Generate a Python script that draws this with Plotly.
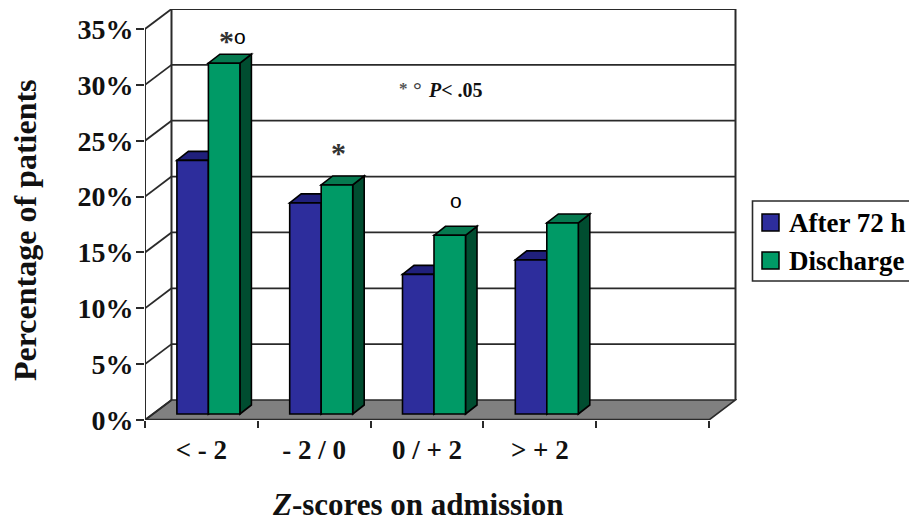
import plotly.graph_objects as go

categories = ["< - 2", "- 2 / 0", "0 / + 2", "> + 2"]
series_names = ["After 72 h", "Discharge"]
after_72h = [22.7, 18.9, 12.5, 13.8]
discharge = [31.4, 20.5, 16.0, 17.1]
y_ticks = [0, 5, 10, 15, 20, 25, 30, 35]
y_labels = ["0%", "5%", "10%", "15%", "20%", "25%", "30%", "35%"]

W, H = 909, 522
L, R, T, B = 145, 737, 9, 420
CAT_PX = 112.8
PCT_PX = (420 - 29) / 35
n_slots = 5

def px_x(p):
    return p / CAT_PX

def px_y(p):
    return p / PCT_PX

def paper_x(p):
    return (p - L) / (R - L)

def paper_y(p):
    return (B - p) / (B - T)

x_range = [0, px_x(R - L)]
y_range = [0, px_y(B - T)]
wall_dx, wall_dy = px_x(26.5), px_y(20)
bar_shift_dx, bar_lift = px_x(7), px_y(6)
bar_w = px_x(31.5)
bar_dx, bar_dy = px_x(11.5), px_y(9)

BLUE, BLUE_TOP, BLUE_SIDE = "#2d2d9c", "#20207c", "#181860"
GREEN, GREEN_TOP, GREEN_SIDE = "#009a66", "#067a50", "#004d30"
LINE = "#2a2a2a"
FONT = "Liberation Serif"

def poly(pts, fill, lw=1.6, col="#000000"):
    path = "M" + "L".join(f"{x},{y}" for x, y in pts) + "Z"
    return dict(type="path", path=path, xref="x", yref="y", layer="below",
                fillcolor=fill, line=dict(color=col, width=lw))

def seg(x0, y0, x1, y1, lw=1.8, col=LINE):
    return dict(type="line", x0=x0, y0=y0, x1=x1, y1=y1, xref="x", yref="y",
                layer="below", line=dict(color=col, width=lw))

shapes = []
xmax_front = n_slots
shapes.append(poly([(0, 0), (wall_dx, wall_dy), (xmax_front + wall_dx, wall_dy), (xmax_front, 0)],
                   "#808080", 1.6, LINE))
for t in y_ticks:
    if t > 0:
        shapes.append(seg(wall_dx, t + wall_dy, xmax_front + wall_dx, t + wall_dy))
    shapes.append(seg(0, t, wall_dx, t + wall_dy))
shapes.append(seg(wall_dx, wall_dy, wall_dx, y_ticks[-1] + wall_dy, 2))
shapes.append(seg(xmax_front + wall_dx, wall_dy, xmax_front + wall_dx, y_ticks[-1] + wall_dy, 2))
shapes.append(seg(0, 0, 0, y_ticks[-1], 2))
shapes.append(seg(0, 0, xmax_front, 0, 2.4))

centers = [i + 0.5 + bar_shift_dx for i in range(len(categories))]
for c, v1, v2 in zip(centers, after_72h, discharge):
    for x0, v, top, side in ((c - bar_w, v1, BLUE_TOP, BLUE_SIDE), (c, v2, GREEN_TOP, GREEN_SIDE)):
        x1 = x0 + bar_w
        y0, y1 = bar_lift, bar_lift + v
        shapes.append(poly([(x1, y0), (x1 + bar_dx, y0 + bar_dy), (x1 + bar_dx, y1 + bar_dy), (x1, y1)], side))
        shapes.append(poly([(x0, y1), (x0 + bar_dx, y1 + bar_dy), (x1 + bar_dx, y1 + bar_dy), (x1, y1)], top))

# legend box (runs past the right edge of the picture, as in the reference) and swatches
shapes.append(dict(type="rect", xref="paper", yref="paper", layer="above",
                   x0=paper_x(752.5), x1=paper_x(930), y0=paper_y(201), y1=paper_y(281),
                   fillcolor="white", line=dict(color=LINE, width=1.6)))
for color, top_px in ((BLUE, 214), (GREEN, 252)):
    shapes.append(dict(type="rect", xref="paper", yref="paper", layer="above",
                       x0=paper_x(762), x1=paper_x(779), y0=paper_y(top_px), y1=paper_y(top_px + 17),
                       fillcolor=color, line=dict(color="#000000", width=1.5)))

fig = go.Figure()
fig.add_bar(name=series_names[0], x=centers, y=after_72h, base=bar_lift,
            marker=dict(color=BLUE, line=dict(color="#000000", width=1.6)))
fig.add_bar(name=series_names[1], x=centers, y=discharge, base=bar_lift,
            marker=dict(color=GREEN, line=dict(color="#000000", width=1.6)))

def note(text, px, py, size=24, color="#222222", family=FONT, angle=0, anchor="center"):
    return dict(text=text, x=paper_x(px), y=paper_y(py), xref="paper", yref="paper",
                showarrow=False, xanchor=anchor, yanchor="middle", textangle=angle,
                font=dict(family=family, size=size, color=color))

annotations = [
    note("<b>*</b>", 226, 40, 30, "#333333"),
    note("o", 240, 36, 21, "#000000", "Liberation Sans"),
    note("<b>*</b>", 338, 152, 30, "#333333"),
    note("o", 456, 200, 21, "#000000", "Liberation Sans"),
    note("<b>*</b>", 403, 88, 17, "#555555"),
    note("<b>°</b>", 417, 90, 22, "#444444"),
    note("<b><i>P</i>&lt; .05</b>", 455, 90, 20, "#111111"),
    note("<b><i>Z</i>-scores on admission</b>", 418, 504.5, 31, "#111111"),
    note("<b>Percentage of patients</b>", 25, 230, 32, "#111111", angle=-90),
    note(f"<b>{series_names[0]}</b>", 787, 223, 27, "#000000", anchor="left"),
    note(f"<b>{series_names[1]}</b>", 787, 261, 27, "#000000", anchor="left"),
]

fig.update_layout(
    width=W, height=H,
    margin=dict(l=L, r=W - R, t=T, b=H - B, pad=0, autoexpand=False),
    paper_bgcolor="white", plot_bgcolor="white",
    barmode="group", bargap=1 - 2 * bar_w, bargroupgap=0,
    showlegend=False,
    shapes=shapes, annotations=annotations,
    font=dict(family=FONT, color="#111111"),
    xaxis=dict(range=x_range, showgrid=False, zeroline=False, showline=False,
               tickvals=[i + 0.5 for i in range(len(categories))],
               ticktext=[f"<b>{c.replace('<', '&lt;').replace('>', '&gt;')}</b>" for c in categories],
               ticklen=0, ticks="", ticklabelstandoff=11,
               tickfont=dict(family=FONT, size=27, color="#111111"),
               minor=dict(tickvals=list(range(n_slots + 1)), ticks="outside", ticklen=7,
                          tickcolor=LINE, tickwidth=1.5)),
    yaxis=dict(range=y_range, showgrid=False, zeroline=False, showline=False,
               tickvals=y_ticks, ticktext=[f"<b>{s}</b>" for s in y_labels],
               ticks="outside", ticklen=8, tickcolor=LINE, tickwidth=1.5, ticklabelstandoff=-3,
               tickfont=dict(family=FONT, size=28, color="#111111")),
)
fig.write_html("out.html", config=dict(displayModeBar=False),
               post_script="document.body.style.margin='0';")
